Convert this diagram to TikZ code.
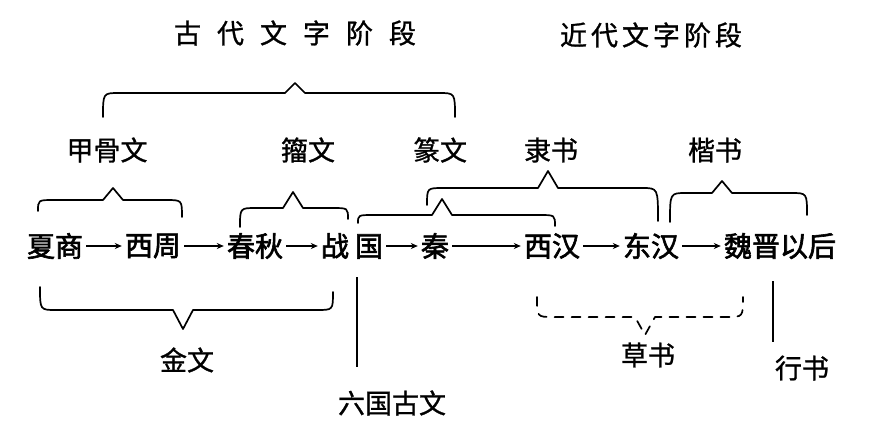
\documentclass[tikz,border=0pt]{standalone}
\usepackage{fontspec}
\newfontfamily\cjk[FakeBold=1]{Noto Sans CJK SC}
\newfontfamily\cjkb[FakeBold=2.2]{Noto Sans CJK SC}
\usetikzlibrary{arrows.meta}
\newcommand\brc[8][]{\draw[bracestyle,#1] (#2,#3) .. controls (#2,#4) .. (#2+16,#4) -- (#5-10,#4) -- (#5,#6) -- (#5+10,#4) -- (#7-16,#4) .. controls (#7,#4) .. (#7,#8);}
\begin{document}
\begin{tikzpicture}[x=1pt,y=-1pt,
  lbl/.style={font=\cjk\fontsize{27}{30}\selectfont, inner sep=1pt},
  era/.style={font=\cjkb\fontsize{28}{30}\selectfont, inner sep=2pt},
  title/.style={font=\cjk\fontsize{27}{30}\selectfont, inner sep=1pt},
  flow/.style={line width=1.5pt, -{Stealth[length=7pt,width=6pt]}, shorten <=1pt, shorten >=1pt},
  bracestyle/.style={line width=1.7pt, line join=round, line cap=round},
  tick/.style={line width=1.7pt}]
\useasboundingbox (0,0) rectangle (878,442);
% titles
\node[title] (t1) at (295,33) {古\hspace{16pt}代\hspace{16pt}文\hspace{16pt}字\hspace{16pt}阶\hspace{16pt}段};
\node[title] (t2) at (651,35) {近\hspace{4pt}代\hspace{4pt}文\hspace{4pt}字\hspace{4pt}阶\hspace{4pt}段};
% upper labels
\node[lbl] (jgw) at (107,150) {甲骨文};
\node[lbl] (zw)  at (308,150) {籀文};
\node[lbl] (zhw) at (440,150) {篆文};
\node[lbl] (ls)  at (551,150) {隶书};
\node[lbl] (ks)  at (715,150) {楷书};
% main row
\node[era] (xs)  at (55,246)  {夏商};
\node[era] (xz)  at (153,246) {西周};
\node[era] (cq)  at (255,246) {春秋};
\node[era] (zg)  at (352,246) {战\hspace{6pt}国};
\node[era] (qin) at (435,246) {秦};
\node[era] (xh)  at (552,246) {西汉};
\node[era] (dh)  at (651,246) {东汉};
\node[era] (wj)  at (780,246) {魏晋以后};
\draw[flow] (xs) -- (xz);
\draw[flow] (xz) -- (cq);
\draw[flow] (cq) -- (zg);
\draw[flow] (zg) -- (qin);
\draw[flow] (qin) -- (xh);
\draw[flow] (xh) -- (dh);
\draw[flow] (dh) -- (wj);
% lower labels
\node[lbl] (jw)  at (187,360) {金文};
\node[lbl] (lg)  at (392,403) {六国古文};
\node[lbl] (cs)  at (648,355) {草书};
\node[lbl] (xsh) at (802,368) {行书};
% vertical ticks
\coordinate (lgtop) at (357,277);
\coordinate (lgbot) at (357,367);
\draw[tick] (lgtop) -- (lgbot);
\coordinate (xstop) at (773,281);
\coordinate (xsbot) at (773,342);
\draw[tick] (xstop) -- (xsbot);
% braces
\brc{103}{117}{93}{295}{83}{455}{117}
\brc{38}{211}{200}{113}{188}{182}{217}
\brc{240}{227}{208}{293}{192}{348}{219}
\brc{358}{223}{215}{442}{199}{555}{226}
\brc{427}{205}{188}{548}{171}{658}{221}
\brc{670}{222}{193}{722}{181}{807}{215}
\brc{40}{287}{310}{183}{329}{333}{292}
\brc[dash pattern=on 9pt off 8pt]{537}{297}{317}{645}{335}{743}{297}
\end{tikzpicture}
\end{document}
